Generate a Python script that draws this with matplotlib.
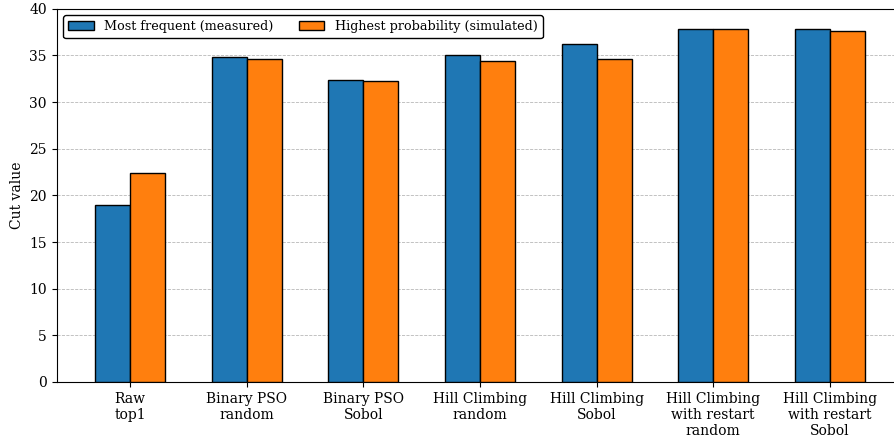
import matplotlib
matplotlib.use("Agg")
import matplotlib.pyplot as plt
import numpy as np

# ── Data ──────────────────────────────────────────────────────────────────────
methods = [
    "Raw\ntop1",
    "Binary PSO\nrandom",
    "Binary PSO\nSobol",
    "Hill Climbing\nrandom",
    "Hill Climbing\nSobol",
    "Hill Climbing\nwith restart\nrandom",
    "Hill Climbing\nwith restart\nSobol",
]
most_frequent = [19.0, 34.8, 32.4, 35.0, 36.2, 37.8, 37.8]
highest_prob  = [22.4, 34.6, 32.2, 34.4, 34.6, 37.8, 37.6]

# ── Plot ──────────────────────────────────────────────────────────────────────
plt.rcParams["font.family"] = "DejaVu Serif"

fig = plt.figure(figsize=(8.94, 4.41), dpi=100)
# axes run slightly past the right edge, as in the cropped original
ax = fig.add_axes([0.0634, 0.1338, 0.947, 0.8465])

x = np.arange(len(methods))
w = 0.3
ax.bar(x - w / 2, most_frequent, w, color="#1f77b4", edgecolor="black",
       linewidth=1.0, label="Most frequent (measured)", zorder=3)
ax.bar(x + w / 2, highest_prob, w, color="#ff7f0e", edgecolor="black",
       linewidth=1.0, label="Highest probability (simulated)", zorder=3)

ax.set_xticks(x)
ax.set_xticklabels(methods, fontsize=10)
ax.set_xlim(-0.63, 6.63)
ax.set_ylim(0, 40)
ax.set_yticks(range(0, 41, 5))
ax.tick_params(axis="y", labelsize=10)
ax.set_ylabel("Cut value", fontsize=10)
ax.yaxis.grid(True, linestyle="--", linewidth=0.6, color="#b8b8b8", zorder=0)
ax.set_axisbelow(True)

leg = ax.legend(loc="upper left", ncol=2, fontsize=9.2, framealpha=1,
                edgecolor="black", fancybox=True)
leg.get_frame().set_linewidth(1.0)

fig.savefig("out.png", dpi=100)
